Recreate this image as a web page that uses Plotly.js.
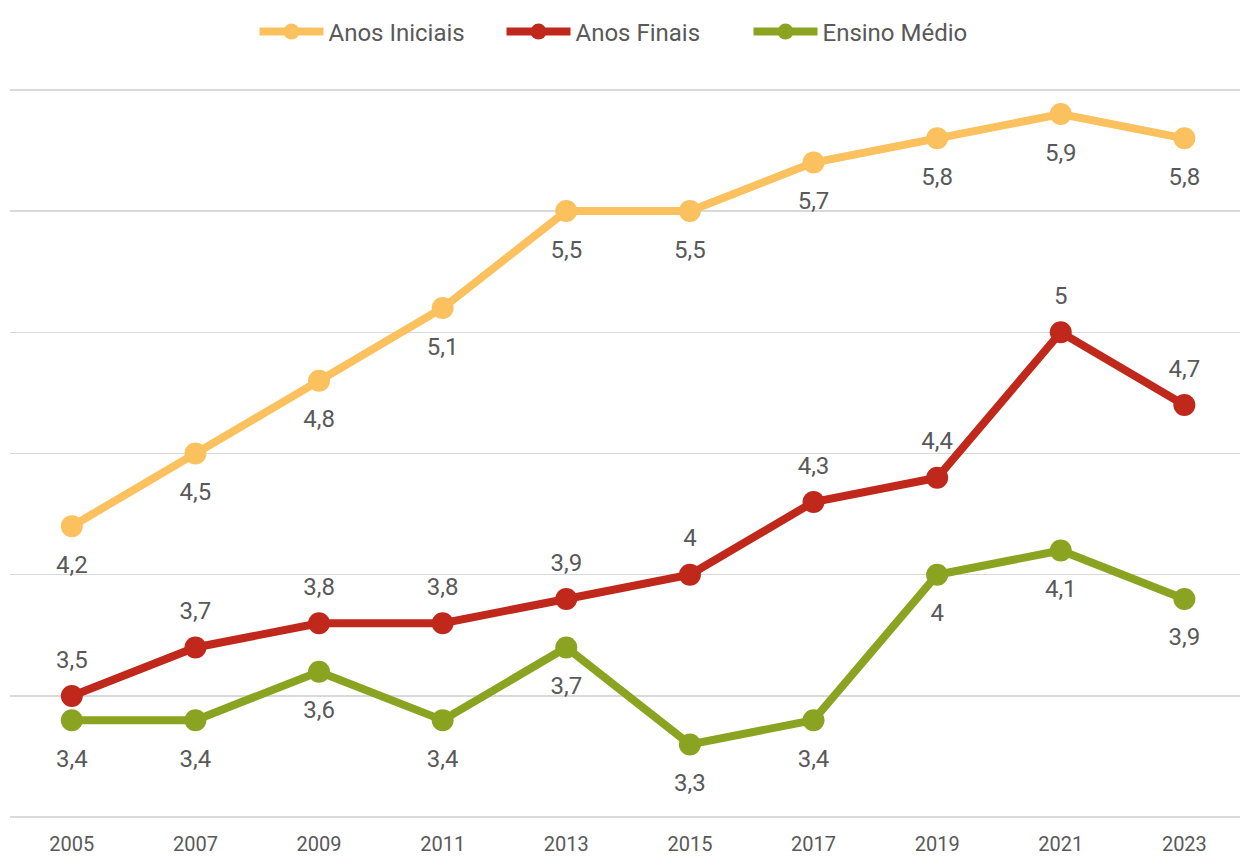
<!DOCTYPE html>
<html>
<head>
<meta charset="utf-8">
<script src="https://cdn.plot.ly/plotly-3.0.1.min.js"></script>
<style>html,body{margin:0;padding:0;background:#fff;}#chart{width:1242px;height:860px;}</style>
</head>
<body>
<div id="chart"></div>
<script>
const years = ['2005','2007','2009','2011','2013','2015','2017','2019','2021','2023'];
const anosIniciais = [4.2, 4.5, 4.8, 5.1, 5.5, 5.5, 5.7, 5.8, 5.9, 5.8];
const anosFinais = [3.5, 3.7, 3.8, 3.8, 3.9, 4.0, 4.3, 4.4, 5.0, 4.7];
const ensinoMedio = [3.4, 3.4, 3.6, 3.4, 3.7, 3.3, 3.4, 4.0, 4.1, 3.9];
const seriesNames = ['Anos Iniciais', 'Anos Finais', 'Ensino Médio'];
const colors = ['#FBC15E', '#C0281B', '#8AA422'];

const fmt = v => String(v).replace('.', ',');
const FONT = 'Roboto, "Open Sans", "DejaVu Sans", sans-serif';

function lineTrace(name, vals, color) {
  return {
    type: 'scatter', mode: 'lines+markers',
    name: name, x: years, y: vals,
    line: {color: color, width: 8},
    marker: {color: color, size: 22},
    cliponaxis: false, hoverinfo: 'x+y'
  };
}
function labelTrace(vals, pos, msize) {
  return {
    type: 'scatter', mode: 'markers+text', showlegend: false,
    x: years, y: vals,
    text: vals.map(fmt), textposition: pos,
    textfont: {family: FONT, size: 24, color: '#595959'},
    marker: {size: msize, color: 'rgba(0,0,0,0)'},
    cliponaxis: false, hoverinfo: 'skip'
  };
}

const data = [
  lineTrace(seriesNames[0], anosIniciais, colors[0]),
  lineTrace(seriesNames[1], anosFinais, colors[1]),
  lineTrace(seriesNames[2], ensinoMedio, colors[2]),
  labelTrace(anosIniciais, 'bottom center', 44),
  labelTrace(anosFinais, 'top center', 34),
  labelTrace(ensinoMedio, 'bottom center', 44)
];

const layout = {
  width: 1242, height: 860,
  margin: {l: 10, r: 2, t: 85, b: 38},
  paper_bgcolor: '#ffffff', plot_bgcolor: '#ffffff',
  font: {family: FONT, color: '#595959'},
  showlegend: true,
  legend: {orientation: 'h', x: 0.5, xanchor: 'center', y: 1.072, yanchor: 'middle',
           font: {family: FONT, size: 24, color: '#595959'}, itemwidth: 64,
           entrywidth: 168, entrywidthmode: 'pixels'},
  xaxis: {type: 'category', range: [-0.5, 9.45], showgrid: false, zeroline: false,
          showline: false, ticks: '', ticklabelstandoff: 8,
          tickfont: {family: FONT, size: 20, color: '#595959'}},
  yaxis: {range: [2.98, 6.02], dtick: 0.5, tick0: 0, showgrid: true, gridcolor: '#d9d9d9', gridwidth: 1.5,
          showticklabels: false, zeroline: false, showline: false, ticks: ''}
};

Plotly.newPlot('chart', data, layout, {displayModeBar: false, staticPlot: true});
</script>
</body>
</html>
